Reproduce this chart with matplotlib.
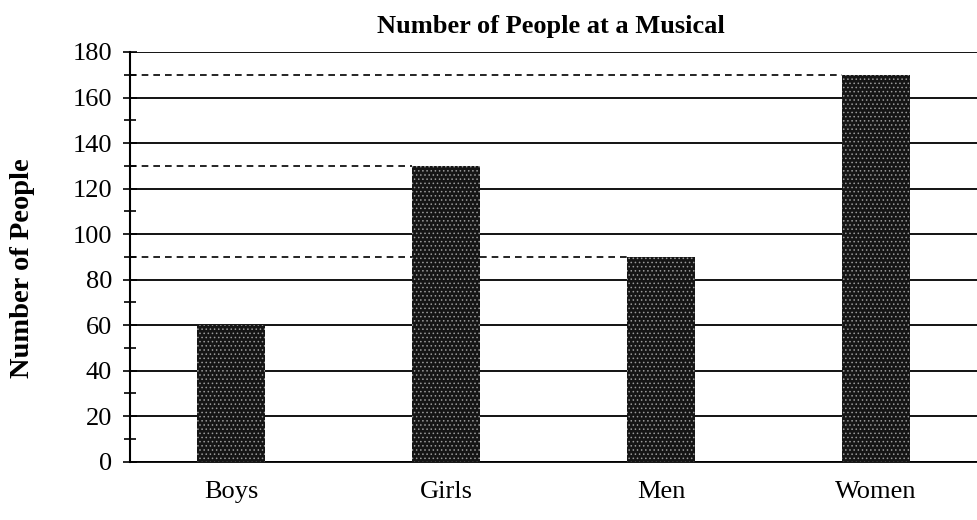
import numpy as np
import matplotlib.pyplot as plt
from matplotlib.ticker import MultipleLocator

# Daten
groups = ['Boys', 'Girls', 'Men', 'Women']
people = [60, 130, 90, 170]
guide_values = [170, 130, 90]    # gestrichelte Hilfslinien
guide_bars = [3, 1, 2]           # zu welchem Balken die Linie geht

plt.rcParams['font.family'] = ['Liberation Serif', 'DejaVu Serif']
plt.rcParams['hatch.color'] = '#9a9a9a'
plt.rcParams['hatch.linewidth'] = 0.6

fig = plt.figure(figsize=(9.77, 5.2), dpi=100)
ax = fig.add_axes([0.133, 0.112, 0.867, 0.788])

x = np.arange(len(groups))
width = 0.32
x_left = -0.47

ax.bar(x, people, width=width, color='#151515', hatch='....', linewidth=0, zorder=3)

# Hilfslinien von der Achse bis zum Balken
for val, b in zip(guide_values, guide_bars):
    ax.hlines(val, x_left, x[b] - width / 2, colors='black', linestyles=(0, (4, 3)),
              linewidth=1.2, zorder=2)

ax.set_xlim(x_left, 3.47)
ax.set_ylim(0, 180)
ax.yaxis.set_major_locator(MultipleLocator(20))
ax.yaxis.set_minor_locator(MultipleLocator(10))
ax.grid(axis='y', which='major', color='black', linewidth=1.3, zorder=1)
ax.set_axisbelow(True)

for s in ['top', 'right']:
    ax.spines[s].set_visible(False)
ax.spines['left'].set_linewidth(1.5)
ax.spines['bottom'].set_linewidth(1.3)

ax.tick_params(axis='y', which='both', direction='inout', length=10, width=1.2,
               labelsize=19, pad=8)
ax.tick_params(axis='y', which='minor', length=8)
ax.set_xticks(x)
ax.set_xticklabels(groups, fontsize=19)
ax.tick_params(axis='x', length=0, pad=14)

ax.set_ylabel('Number of People', fontsize=20.5, fontweight='bold')
ax.yaxis.set_label_coords(-0.112, 0.473)
ax.set_title('Number of People at a Musical', fontsize=19, fontweight='bold', pad=14, x=0.497)

fig.savefig('out.png', dpi=100)
